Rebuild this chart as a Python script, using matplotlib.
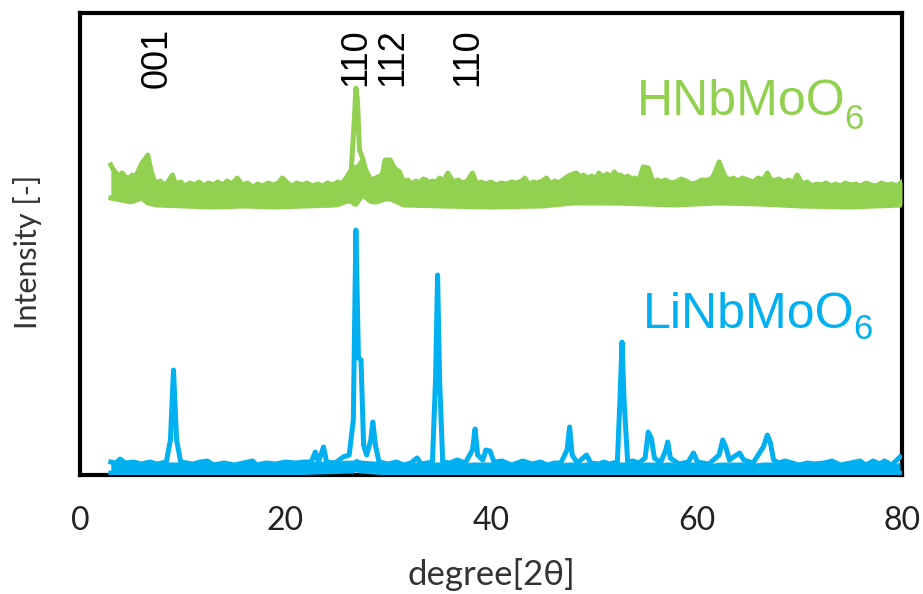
import matplotlib
matplotlib.use("Agg")
import matplotlib.pyplot as plt
import numpy as np

# ---------------- data ----------------
# HNbMoO6 trace (offset upward): upper edge of the noisy band, (2theta, intensity)
h_upper = [(3.0, 310), (3.2, 306), (3.5, 302), (3.8, 299), (4.1, 302), (4.4, 298), (4.8, 297),
           (5.1, 300), (5.4, 298), (5.8, 307), (6.1, 313), (6.4, 317), (6.6, 320), (6.9, 305),
           (7.2, 295), (7.5, 292), (7.8, 294), (8.2, 290), (8.5, 292), (9.0, 300), (9.3, 291),
           (9.8, 293), (10.2, 289), (10.7, 292), (11.1, 290), (11.6, 293), (12.0, 289),
           (12.5, 292), (13.0, 290), (13.4, 293), (13.9, 290), (14.3, 294), (14.8, 291),
           (15.3, 297), (15.8, 290), (16.3, 292), (16.8, 288), (17.3, 291), (17.8, 289),
           (18.3, 292), (18.8, 290), (19.3, 292), (19.7, 297), (20.2, 292), (20.6, 289),
           (21.1, 292), (21.6, 290), (22.1, 292), (22.6, 289), (23.1, 291), (23.6, 289),
           (24.1, 292), (24.6, 290), (25.1, 293), (25.5, 291), (25.9, 297), (26.4, 305),
           (26.7, 355), (26.85, 387), (27.0, 375), (27.2, 325), (27.5, 317), (27.8, 305),
           (28.3, 295), (28.8, 297), (29.4, 300), (29.7, 315), (30.2, 315), (30.6, 307),
           (31.1, 303), (31.5, 293), (31.9, 295), (32.3, 291), (32.7, 294), (33.0, 292),
           (33.4, 296), (33.7, 295), (34.0, 292), (34.3, 294), (34.7, 293), (35.0, 297),
           (35.4, 294), (35.8, 302), (36.3, 293), (36.8, 295), (37.2, 292), (37.7, 294),
           (38.2, 302), (38.6, 291), (39.0, 293), (39.5, 291), (40.0, 293), (40.5, 290),
           (41.0, 292), (41.5, 291), (42.0, 293), (42.5, 292), (43.0, 294), (43.3, 297),
           (43.7, 290), (44.1, 293), (44.5, 292), (45.0, 294), (45.4, 297), (45.8, 291),
           (46.2, 294), (46.6, 292), (47.1, 296), (47.7, 300), (48.3, 302), (48.7, 298),
           (49.0, 300), (49.4, 297), (49.8, 299), (50.2, 296), (50.5, 302), (50.9, 298),
           (51.3, 301), (51.7, 298), (52.0, 303), (52.3, 299), (52.6, 300), (53.0, 297),
           (53.3, 299), (53.7, 296), (54.0, 297), (54.4, 294), (54.8, 308), (55.3, 307),
           (55.8, 292), (56.2, 295), (56.5, 293), (57.0, 295), (57.5, 292), (58.0, 293),
           (58.5, 296), (59.0, 294), (59.5, 291), (60.0, 292), (60.5, 295), (61.2, 295),
           (61.6, 298), (61.9, 305), (62.2, 313), (62.5, 305), (62.8, 298), (63.2, 295),
           (63.6, 297), (64.0, 294), (64.5, 297), (65.0, 295), (65.5, 293), (66.0, 297),
           (66.5, 295), (66.9, 302), (67.2, 296), (67.5, 294), (68.0, 296), (68.5, 293),
           (69.0, 295), (69.4, 292), (69.8, 300), (70.3, 291), (70.8, 293), (71.2, 289),
           (71.7, 291), (72.2, 290), (72.6, 292), (73.1, 289), (73.5, 291), (74.0, 289),
           (74.5, 292), (75.0, 290), (75.5, 291), (76.0, 289), (76.5, 292), (77.0, 290),
           (77.5, 289), (78.0, 292), (78.5, 290), (79.0, 291), (79.5, 289), (80.0, 293)]
# lower edge of the HNbMoO6 band
h_lower = [(3.0, 277), (4.0, 275), (5.0, 273), (6.0, 277), (6.6, 272), (7.5, 270),
           (10.0, 269), (13.0, 268), (16.0, 269), (19.0, 268), (22.0, 269), (25.0, 270),
           (26.3, 275), (26.8, 270), (27.5, 280), (28.5, 272), (30.0, 277), (31.5, 270),
           (35.0, 269), (40.0, 268), (45.0, 269), (48.0, 272), (52.0, 272), (55.0, 271),
           (58.0, 270), (62.0, 272), (66.0, 271), (70.0, 269), (75.0, 268), (80.0, 270)]

# LiNbMoO6 trace (bottom): upper edge (peaks) and lower edge
l_upper = [(3.0, 13), (3.5, 12), (3.9, 16), (4.4, 12), (5.2, 13), (6.0, 11), (6.8, 13),
           (7.5, 11), (8.4, 13), (8.8, 35), (9.1, 105), (9.4, 35), (9.8, 13), (10.4, 12),
           (11.0, 11), (11.7, 13), (12.4, 14), (13.0, 10), (14.0, 12), (15.0, 10),
           (15.9, 12), (16.8, 14), (17.2, 10), (18.1, 12), (19.0, 11), (20.0, 13),
           (21.0, 12), (21.8, 13), (22.5, 13), (22.9, 23), (23.2, 13), (23.7, 28),
           (24.0, 13), (24.5, 12), (25.0, 13), (25.6, 18), (26.2, 20), (26.6, 55),
           (26.85, 245), (27.1, 117), (27.35, 115), (27.6, 30), (27.9, 20), (28.3, 35),
           (28.5, 53), (28.75, 30), (29.1, 13), (30.0, 11), (30.8, 13), (31.5, 10),
           (32.2, 12), (32.8, 17), (33.2, 11), (33.8, 12), (34.3, 13), (34.6, 95),
           (34.8, 200), (35.0, 95), (35.3, 13), (36.0, 12), (36.7, 15), (37.5, 12),
           (38.2, 25), (38.45, 46), (38.7, 20), (39.2, 15), (39.5, 25), (39.9, 24),
           (40.3, 13), (41.1, 14), (42.0, 10), (43.1, 14), (44.0, 11), (44.8, 13),
           (45.5, 10), (46.2, 12), (46.8, 12), (47.4, 25), (47.65, 48), (47.9, 20),
           (48.4, 12), (49.3, 20), (49.7, 12), (50.5, 11), (51.0, 13), (51.5, 11),
           (52.3, 13), (52.55, 75), (52.75, 133), (52.95, 75), (53.3, 13), (53.8, 14),
           (54.4, 12), (55.0, 17), (55.3, 43), (55.6, 37), (55.9, 17), (56.5, 12),
           (57.0, 25), (57.2, 33), (57.45, 17), (58.3, 11), (59.2, 13), (59.7, 22),
           (60.1, 13), (60.6, 12), (61.2, 11), (62.2, 20), (62.55, 35), (62.85, 28),
           (63.2, 15), (63.6, 18), (64.2, 22), (64.6, 15), (65.5, 12), (66.5, 28),
           (66.9, 40), (67.2, 32), (67.5, 15), (68.0, 12), (68.6, 14), (69.3, 12),
           (70.0, 10), (70.8, 12), (71.5, 11), (72.4, 12), (73.2, 14), (74.0, 10),
           (75.0, 12), (75.9, 14), (76.5, 10), (77.2, 14), (77.8, 11), (78.3, 14),
           (79.0, 10), (79.8, 18)]
l_lower = [(3.0, 2), (10.0, 2), (20.0, 2), (26.6, 4), (26.9, 6), (27.2, 4), (30.0, 2),
           (40.0, 2), (50.0, 2), (60.0, 2), (70.0, 2), (80.0, 2)]

hkl_labels = ["001", "110", "112", "110"]
hkl_pos = [7.5, 26.8, 30.4, 37.7]

x_ticks = [0, 20, 40, 60, 80]

GREEN = "#92D050"
BLUE = "#00B0F0"

fig = plt.figure(figsize=(9.23, 5.94), dpi=100)
ax = fig.add_axes([80 / 923, 1 - 475 / 594, 822 / 923, 462 / 594])


def draw_band(upper, lower, color, cap, lw):
    ux = np.array([p[0] for p in upper], float)
    uy = np.array([p[1] for p in upper], float)
    lx = [p[0] for p in lower]
    ly = [p[1] for p in lower]
    lo = np.interp(ux, lx, ly)
    top = np.minimum(uy, lo + cap)
    ax.fill_between(ux, lo, top, color=color, lw=0, zorder=3)
    ax.plot(ux, uy, color=color, lw=lw, solid_joinstyle="round", zorder=4)
    ax.plot(ux, lo, color=color, lw=lw, zorder=4)


draw_band(h_upper, h_lower, GREEN, cap=40, lw=3.6)
draw_band(l_upper, l_lower, BLUE, cap=11, lw=3.6)

ax.set_xlim(0, 80)
ax.set_ylim(0, 462)
ax.set_xticks(x_ticks)
ax.set_yticks([])
ax.tick_params(axis="x", length=0, pad=22, labelsize=23, labelcolor="#222222")
for lab in ax.get_xticklabels():
    lab.set_fontfamily("Lato")
for s in ax.spines.values():
    s.set_linewidth(3.0)
    s.set_color("black")
    s.set_zorder(2.5)

ax.set_xlabel("degree[2θ]", fontfamily="Lato", fontsize=25, labelpad=16, color="#333333")
fig.text(28 / 923, 1 - 252 / 594, "Intensity [-]", rotation=90, ha="center", va="center",
         fontfamily="Lato", fontsize=22, color="#333333")

for lab, xp in zip(hkl_labels, hkl_pos):
    ax.text(xp, 447, lab, rotation=90, ha="center", va="top",
            fontfamily="Liberation Sans", fontsize=26, color="black")

# formula labels with a large subscript
t1 = ax.text(54.2, 360, "HNbMoO", ha="left", va="baseline", fontfamily="Liberation Sans",
             fontsize=36, color=GREEN)
ax.annotate("6", xy=(1, 0), xycoords=t1, xytext=(-1, -3), textcoords="offset points",
            ha="left", va="baseline", fontfamily="Liberation Sans", fontsize=25, color=GREEN)
t2 = ax.text(54.8, 147, "LiNbMoO", ha="left", va="baseline", fontfamily="Liberation Sans",
             fontsize=36, color=BLUE)
ax.annotate("6", xy=(1, 0), xycoords=t2, xytext=(-1, -1), textcoords="offset points",
            ha="left", va="baseline", fontfamily="Liberation Sans", fontsize=25, color=BLUE)

fig.savefig("out.png", dpi=100)
